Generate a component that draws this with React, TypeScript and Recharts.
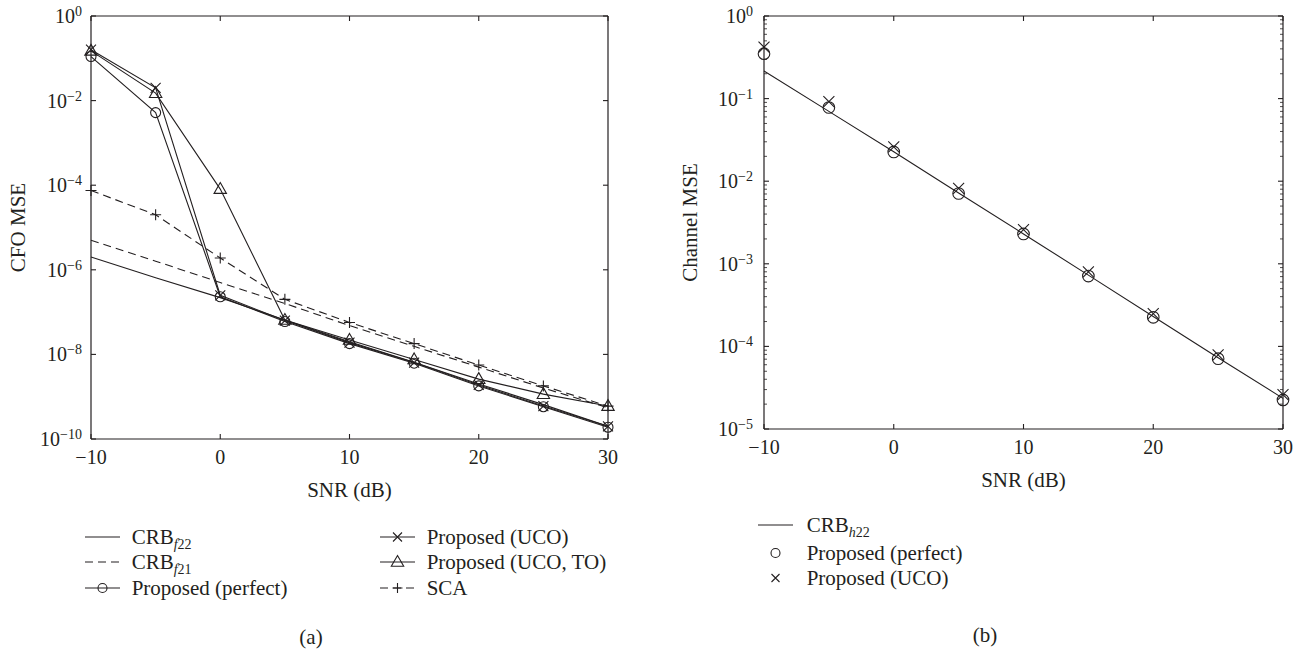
import React from 'react';
import { LineChart, Line, XAxis, YAxis, ReferenceLine } from 'recharts';

// SNR grid (dB)
const SNR = [-10, -5, 0, 5, 10, 15, 20, 25, 30];

// (a) CFO MSE
const CRB_F22 = [2e-6, 6.5e-7, 2.2e-7, 6.5e-8, 2e-8, 6.5e-9, 2e-9, 6.5e-10, 2e-10];
const CRB_F21 = [5e-6, 1.6e-6, 5e-7, 1.6e-7, 4.8e-8, 1.55e-8, 5e-9, 1.6e-9, 5.5e-10];
const PERFECT = [0.11, 5.2e-3, 2.3e-7, 6e-8, 1.8e-8, 6.2e-9, 1.8e-9, 5.8e-10, 1.9e-10];
const UCO = [0.16, 0.02, 2.5e-7, 6.3e-8, 1.9e-8, 6.4e-9, 1.9e-9, 6e-10, 2e-10];
const UCO_TO = [0.15, 0.015, 8.1e-5, 6.5e-8, 2.2e-8, 7.6e-9, 2.6e-9, 1.15e-9, 6e-10];
const SCA = [7.5e-5, 2e-5, 1.9e-6, 2e-7, 5.7e-8, 1.8e-8, 5.6e-9, 1.8e-9, 6e-10];

// (b) channel MSE
const CRB_H22 = [0.216, 0.07, 0.0227, 7.2e-3, 2.3e-3, 7.3e-4, 2.3e-4, 7.3e-5, 2.35e-5];
const PERFECT_H = [0.35, 0.078, 0.0226, 7.1e-3, 2.3e-3, 7.1e-4, 2.25e-4, 7.1e-5, 2.25e-5];
const UCO_H = [0.42, 0.092, 0.026, 8.2e-3, 2.6e-3, 8e-4, 2.5e-4, 7.9e-5, 2.6e-5];

const X_TICKS = [-10, 0, 10, 20, 30];
const CFO_TICKS = [1, 1e-2, 1e-4, 1e-6, 1e-8, 1e-10];
const CH_TICKS = [1, 1e-1, 1e-2, 1e-3, 1e-4, 1e-5];
const CH_MINOR: number[] = [];
for (let k = -5; k < 0; k++) for (let m = 2; m <= 9; m++) CH_MINOR.push(m * Math.pow(10, k));

const INK = '#231f20';
const FONT = '"Liberation Serif", "DejaVu Serif", serif';
const SW = 1.1;

const cfoRows = SNR.map((snr, i) => ({
  snr, crbF22: CRB_F22[i], crbF21: CRB_F21[i], perfect: PERFECT[i], uco: UCO[i], ucoTo: UCO_TO[i], sca: SCA[i],
}));
const chRows = SNR.map((snr, i) => ({ snr, crb: CRB_H22[i], perfect: PERFECT_H[i], uco: UCO_H[i] }));

const fmtSnr = (v: number) => (v < 0 ? '\u2212' + Math.abs(v) : String(v));

// markers
const Circ = ({ cx, cy, r = 5 }: any) => <circle cx={cx} cy={cy} r={r} fill="none" stroke={INK} strokeWidth={SW} />;
const Cross = ({ cx, cy, s = 5 }: any) => (
  <path d={`M${cx - s},${cy - s}L${cx + s},${cy + s}M${cx - s},${cy + s}L${cx + s},${cy - s}`} stroke={INK} strokeWidth={SW} fill="none" />
);
const Tri = ({ cx, cy }: any) => (
  <path d={`M${cx},${cy - 6.5}L${cx + 6.2},${cy + 4.3}L${cx - 6.2},${cy + 4.3}Z`} stroke={INK} strokeWidth={SW} fill="none" />
);
const Plus = ({ cx, cy, s = 5.5 }: any) => (
  <path d={`M${cx - s},${cy}L${cx + s},${cy}M${cx},${cy - s}L${cx},${cy + s}`} stroke={INK} strokeWidth={SW} fill="none" />
);

// x ticks: label + inward tick marks at bottom and top of the box
const XTick = ({ x, y, payload, margin, top }: any) => {
  const base = y - margin;
  return (
    <g>
      <line x1={x} y1={base} x2={x} y2={base - 5} stroke={INK} strokeWidth={SW} />
      <line x1={x} y1={top} x2={x} y2={top + 5} stroke={INK} strokeWidth={SW} />
      <text x={x} y={y} dy={14} textAnchor="middle" fill={INK} fontFamily={FONT} fontSize={20}>{fmtSnr(payload.value)}</text>
    </g>
  );
};

// log y ticks: 10^k label on majors, inward marks on both sides, shorter for minors
const YTick = ({ x, y, payload, margin, right }: any) => {
  const v = payload.value;
  const lg = Math.log10(v);
  const e = Math.round(lg);
  const major = Math.abs(lg - e) < 1e-6;
  const base = x + margin;
  const len = major ? 5 : 3;
  const w = major ? SW : 0.8;
  const exp = e < 0 ? '\u2212' + Math.abs(e) : String(e);
  return (
    <g>
      <line x1={base} y1={y} x2={base + len} y2={y} stroke={INK} strokeWidth={w} />
      <line x1={right} y1={y} x2={right - len} y2={y} stroke={INK} strokeWidth={w} />
      {major && (
        <text x={x} y={y} dy={7} textAnchor="end" fill={INK} fontFamily={FONT} fontSize={20}>
          <tspan>10</tspan>
          <tspan dy={-7} fontSize={14}>{exp}</tspan>
        </text>
      )}
    </g>
  );
};

const labelText = { fill: INK, fontSize: 21, fontFamily: FONT };

const Sub = ({ v, n }: any) => (
  <span>
    CRB<span style={{ fontSize: 14, verticalAlign: '-5px', lineHeight: 0 }}><i>{v}</i>{n}</span>
  </span>
);

const LegendRow = ({ left, top, gap, dash, line = true, mark, children }: any) => (
  <div style={{ position: 'absolute', left, top: top - 13, height: 26, display: 'flex', alignItems: 'center', whiteSpace: 'nowrap' }}>
    <svg width={35} height={26} style={{ display: 'block' }}>
      {line && <line x1={0} y1={13} x2={35} y2={13} stroke={INK} strokeWidth={SW} strokeDasharray={dash} />}
      {mark}
    </svg>
    <span style={{ marginLeft: gap, fontSize: 21, lineHeight: '26px', fontFamily: FONT, color: INK }}>{children}</span>
  </div>
);

export default function App() {
  return (
    <div style={{ position: 'absolute', left: 0, top: 0, width: 1305, height: 651, background: '#fff', fontFamily: FONT }}>
      {/* (a) CFO MSE */}
      <div style={{ position: 'absolute', left: 0, top: 0 }}>
        <LineChart width={620} height={510} data={cfoRows} margin={{ top: 16, right: 12, left: 0, bottom: 0 }}>
          <XAxis xAxisId="x" dataKey="snr" type="number" domain={[-10, 30]} ticks={X_TICKS} interval={0}
            tickLine={false} tickSize={0} tickMargin={11} height={71} axisLine={{ stroke: INK, strokeWidth: 1.2 }}
            tick={<XTick margin={11} top={16} />}
            label={{ value: 'SNR (dB)', position: 'insideBottom', offset: 13, ...labelText }} />
          <YAxis yAxisId="y" scale="log" type="number" domain={[1e-10, 1]} ticks={CFO_TICKS} interval={0}
            tick={<YTick margin={9} right={608} />}
            tickLine={false} tickSize={0} tickMargin={9} width={91} axisLine={{ stroke: INK, strokeWidth: 1.2 }}
            label={{ value: 'CFO MSE', angle: -90, position: 'insideLeft', offset: 18, style: { textAnchor: 'middle' }, ...labelText }} />
          <ReferenceLine xAxisId="x" yAxisId="y" y={1} stroke={INK} strokeWidth={1.2} />
          <ReferenceLine xAxisId="x" yAxisId="y" x={30} stroke={INK} strokeWidth={1.2} />
          <Line xAxisId="x" yAxisId="y" dataKey="crbF22" stroke={INK} strokeWidth={SW} dot={false} isAnimationActive={false} />
          <Line xAxisId="x" yAxisId="y" dataKey="crbF21" stroke={INK} strokeWidth={SW} strokeDasharray="8 5" dot={false} isAnimationActive={false} />
          <Line xAxisId="x" yAxisId="y" dataKey="sca" stroke={INK} strokeWidth={SW} strokeDasharray="8 5" isAnimationActive={false}
            dot={(p: any) => <Plus key={`sca-${p.index}`} cx={p.cx} cy={p.cy} />} />
          <Line xAxisId="x" yAxisId="y" dataKey="ucoTo" stroke={INK} strokeWidth={SW} isAnimationActive={false}
            dot={(p: any) => <Tri key={`tri-${p.index}`} cx={p.cx} cy={p.cy} />} />
          <Line xAxisId="x" yAxisId="y" dataKey="uco" stroke={INK} strokeWidth={SW} isAnimationActive={false}
            dot={(p: any) => <Cross key={`x-${p.index}`} cx={p.cx} cy={p.cy} />} />
          <Line xAxisId="x" yAxisId="y" dataKey="perfect" stroke={INK} strokeWidth={SW} isAnimationActive={false}
            dot={(p: any) => <Circ key={`o-${p.index}`} cx={p.cx} cy={p.cy} />} />
        </LineChart>
      </div>

      {/* (b) Channel MSE */}
      <div style={{ position: 'absolute', left: 660, top: 0 }}>
        <LineChart width={638} height={500} data={chRows} margin={{ top: 16, right: 15, left: 0, bottom: 0 }}>
          <XAxis xAxisId="x" dataKey="snr" type="number" domain={[-10, 30]} ticks={X_TICKS} interval={0}
            tickLine={false} tickSize={0} tickMargin={11} height={71} axisLine={{ stroke: INK, strokeWidth: 1.2 }}
            tick={<XTick margin={11} top={16} />}
            label={{ value: 'SNR (dB)', position: 'insideBottom', offset: 13, ...labelText }} />
          <YAxis yAxisId="y" scale="log" type="number" domain={[1e-5, 1]} ticks={[...CH_TICKS, ...CH_MINOR]} interval={0}
            tick={<YTick margin={11} right={623} />}
            tickLine={false} tickSize={0} tickMargin={11} width={104} axisLine={{ stroke: INK, strokeWidth: 1.2 }}
            label={{ value: 'Channel MSE', angle: -90, position: 'insideLeft', offset: 30, style: { textAnchor: 'middle' }, ...labelText }} />
          <ReferenceLine xAxisId="x" yAxisId="y" y={1} stroke={INK} strokeWidth={1.2} />
          <ReferenceLine xAxisId="x" yAxisId="y" x={30} stroke={INK} strokeWidth={1.2} />
          <Line xAxisId="x" yAxisId="y" dataKey="crb" stroke={INK} strokeWidth={SW} dot={false} isAnimationActive={false} />
          <Line xAxisId="x" yAxisId="y" dataKey="perfect" stroke="none" isAnimationActive={false}
            dot={(p: any) => <Circ key={`ho-${p.index}`} cx={p.cx} cy={p.cy} r={5.8} />} />
          <Line xAxisId="x" yAxisId="y" dataKey="uco" stroke="none" isAnimationActive={false}
            dot={(p: any) => <Cross key={`hx-${p.index}`} cx={p.cx} cy={p.cy} s={5.5} />} />
        </LineChart>
      </div>

      {/* legend (a) */}
      <LegendRow left={85} top={537} gap={11.7}><Sub v="f" n="22" /></LegendRow>
      <LegendRow left={85} top={562} gap={11.7} dash="8 5"><Sub v="f" n="21" /></LegendRow>
      <LegendRow left={85} top={588} gap={11.7} mark={<Circ cx={17.5} cy={13} r={4.5} />}>Proposed (perfect)</LegendRow>
      <LegendRow left={380} top={537} gap={11.7} mark={<Cross cx={17.5} cy={13} s={4.5} />}>Proposed (UCO)</LegendRow>
      <LegendRow left={380} top={562} gap={11.7} mark={<Tri cx={17.5} cy={13} />}>Proposed (UCO, TO)</LegendRow>
      <LegendRow left={380} top={588} gap={11.7} dash="8 5" mark={<Plus cx={17.5} cy={13} s={5} />}>SCA</LegendRow>

      {/* legend (b) */}
      <LegendRow left={758} top={525} gap={13.7}><Sub v="h" n="22" /></LegendRow>
      <LegendRow left={758} top={553} gap={13.7} line={false} mark={<Circ cx={17.5} cy={13} r={4.5} />}>Proposed (perfect)</LegendRow>
      <LegendRow left={758} top={578} gap={13.7} line={false} mark={<Cross cx={17.5} cy={13} s={4} />}>Proposed (UCO)</LegendRow>

      <div style={{ position: 'absolute', left: 311, top: 637, transform: 'translate(-50%, -50%)', fontSize: 21, color: INK }}>(a)</div>
      <div style={{ position: 'absolute', left: 985, top: 635, transform: 'translate(-50%, -50%)', fontSize: 21, color: INK }}>(b)</div>
    </div>
  );
}
